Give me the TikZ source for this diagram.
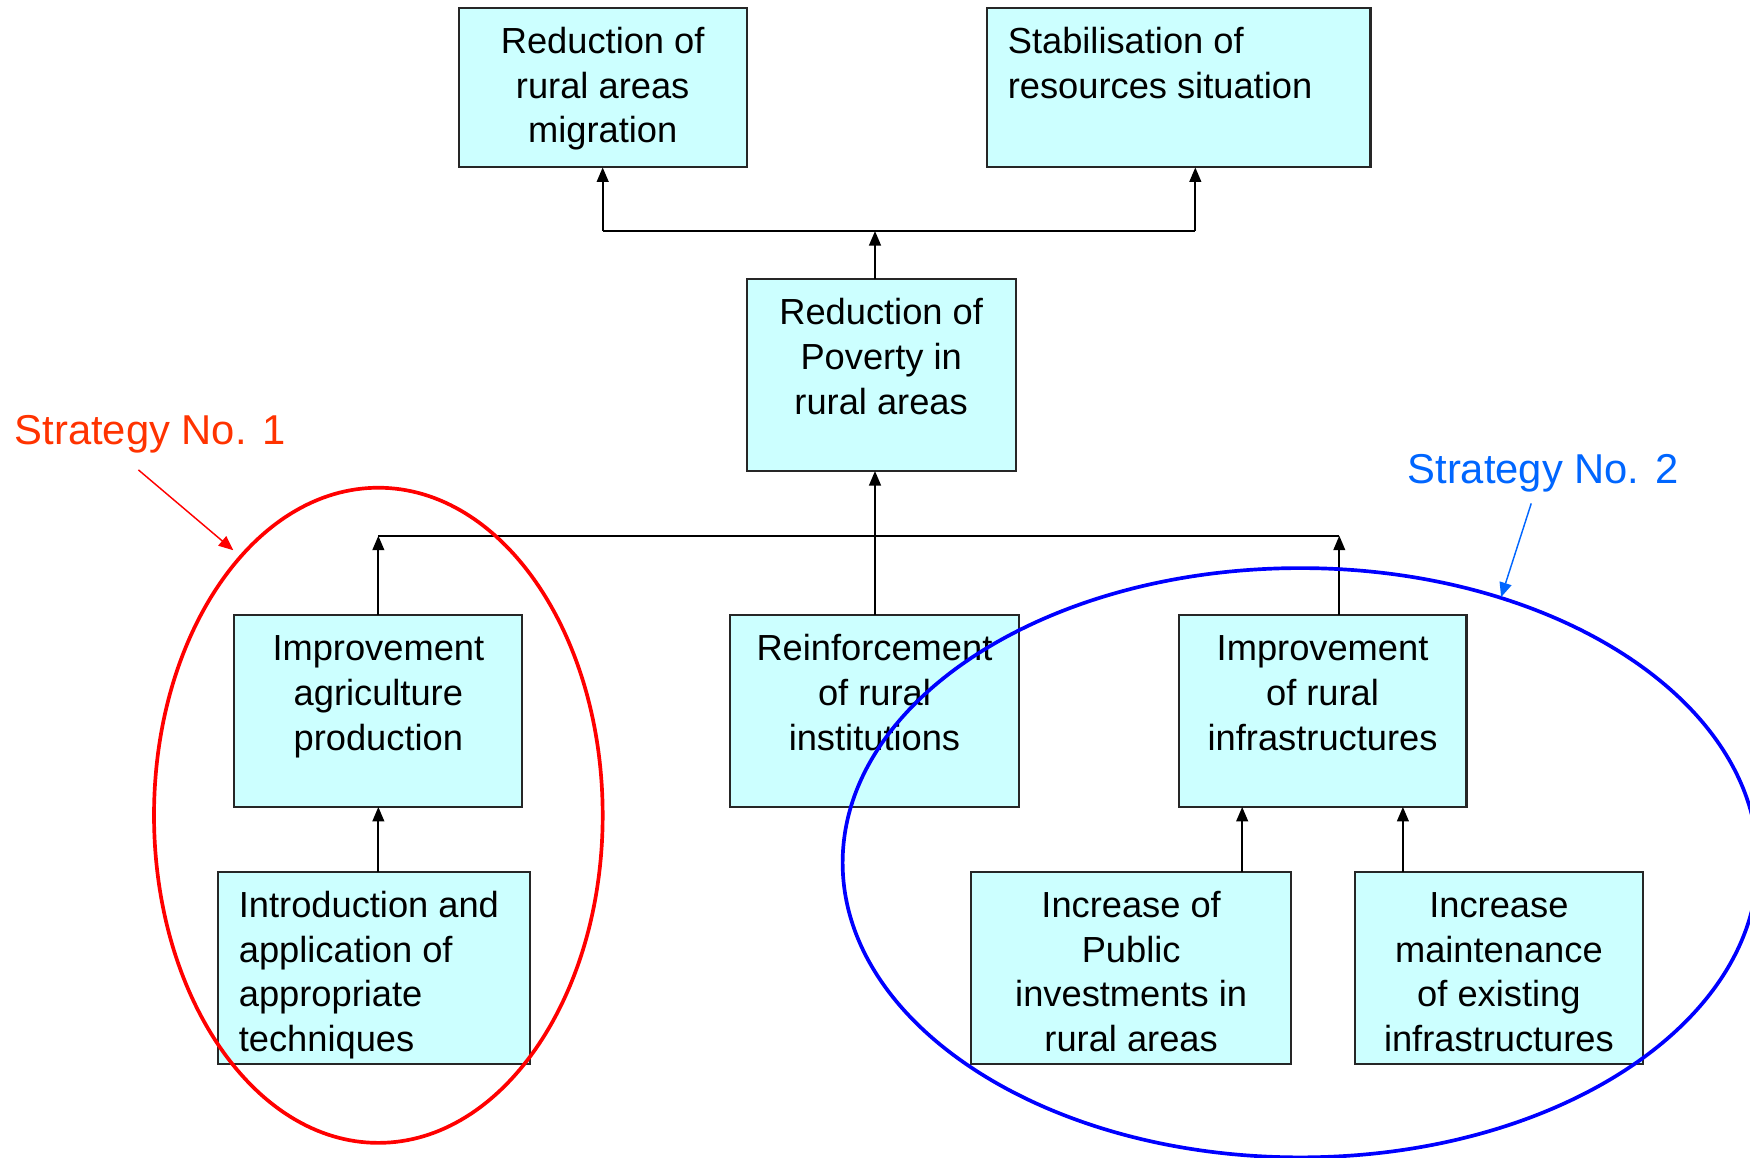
\documentclass[tikz,border=0pt]{standalone}
\usepackage{fontspec}
\setmainfont{Liberation Sans}
\usetikzlibrary{arrows.meta,shapes.geometric,calc}
\definecolor{boxfill}{HTML}{CCFFFF}
\definecolor{sonecol}{RGB}{255,51,0}
\definecolor{stwocol}{RGB}{0,102,255}
\definecolor{ringred}{RGB}{255,0,0}
\definecolor{ringblue}{RGB}{0,0,255}
\begin{document}
\begin{tikzpicture}[x=1pt,y=-1pt,
  boxnode/.style={draw=black!85, fill=boxfill, line width=1.9pt, inner sep=0pt, outer sep=0pt},
  txt/.style={inner sep=0pt, outer sep=0pt, font=\fontsize{32.5}{40}\selectfont},
  ln/.style={line width=1.8pt, draw=black},
  arr/.style={ln, -{Triangle[length=13pt,width=10.5pt]}},
  stratfont/.style={inner sep=0pt, font=\fontsize{37.4}{44}\selectfont},
  ring/.style={ellipse, line width=3.3pt, inner sep=0pt, outer sep=0pt}
]
\useasboundingbox (0,0) rectangle (1568,1037);
\fill[white] (0,0) rectangle (1568,1037);

% boxes
\node[boxnode, minimum width=258pt, minimum height=143pt] (A) at (540,78.5) {};
\node[boxnode, minimum width=344pt, minimum height=143pt] (B) at (1056,78.5) {};
\node[boxnode, minimum width=241pt, minimum height=172pt] (C) at (789.5,336) {};
\node[boxnode, minimum width=258pt, minimum height=172pt] (D) at (339,637) {};
\node[boxnode, minimum width=259pt, minimum height=172pt] (E) at (783.5,637) {};
\node[boxnode, minimum width=258pt, minimum height=172pt] (F) at (1185,637) {};
\node[boxnode, minimum width=280pt, minimum height=172pt] (G) at (335,867) {};
\node[boxnode, minimum width=287pt, minimum height=172pt] (H) at (1013.5,867) {};
\node[boxnode, minimum width=258pt, minimum height=172pt] (I) at (1343,867) {};

% texts
\node[txt, anchor=north, align=center] (At) at ($(A.north)+(0,11)$) {\rule{0pt}{30pt}Reduction of\\rural areas\\migration};
\node[txt, anchor=north west, align=left] (Bt) at ($(B.north west)+(19,11)$) {\rule{0pt}{30pt}Stabilisation of\\resources situation};
\node[txt, anchor=north, align=center] (Ct) at ($(C.north)+(0,11)$) {\rule{0pt}{30pt}Reduction of\\Poverty in\\rural areas};
\node[txt, anchor=north, align=center] (Dt) at ($(D.north)+(0,11)$) {\rule{0pt}{30pt}Improvement\\agriculture\\production};
\node[txt, anchor=north, align=center] (Et) at ($(E.north)+(0,11)$) {\rule{0pt}{30pt}Reinforcement\\of rural\\institutions};
\node[txt, anchor=north, align=center] (Ft) at ($(F.north)+(0,11)$) {\rule{0pt}{30pt}Improvement\\of rural\\infrastructures};
\node[txt, anchor=north west, align=left] (Gt) at ($(G.north west)+(19,11)$) {\rule{0pt}{30pt}Introduction and\\application of\\appropriate\\techniques};
\node[txt, anchor=north, align=center] (Ht) at ($(H.north)+(0,11)$) {\rule{0pt}{30pt}Increase of\\Public\\investments in\\rural areas};
\node[txt, anchor=north, align=center] (It) at ($(I.north)+(0,11)$) {\rule{0pt}{30pt}Increase\\maintenance\\of existing\\infrastructures};

% upper connectors
\coordinate (j1) at (540,207);
\coordinate (j2) at (1071,207);
\coordinate (jc) at (784,207);
\draw[ln] (j1) -- (j2);
\draw[arr] (j1) -- (A.south);
\draw[arr] (j2) -- (j2 |- B.south);
\draw[arr] (jc |- C.north) -- (jc);

% middle connectors
\coordinate (k1) at (339,480);
\coordinate (k2) at (1200,480);
\draw[ln] (k1) -- (k2);
\draw[arr] (D.north) -- (k1);
\draw[arr] (k2 |- F.north) -- (k2);
\coordinate (kc) at (784,480);
\draw[arr] (kc |- E.north) -- (kc |- C.south);

% lower connectors
\draw[arr] (D.south |- G.north) -- (D.south);
\coordinate (h1) at (1113,780);
\coordinate (i1) at (1257,780);
\draw[arr] (h1 |- H.north) -- (h1 |- F.south);
\draw[arr] (i1 |- I.north) -- (i1 |- F.south);

% strategy rings
\node[ring, draw=ringred, minimum width=402pt, minimum height=587pt] (S1) at (339,730.5) {};
\node[ring, draw=ringblue, minimum width=820pt, minimum height=528pt] (S2) at (1165,773) {};

% strategy labels
\node[stratfont, text=sonecol, anchor=base west] (T1) at (13,398) {Strategy No. 1};
\node[stratfont, text=stwocol, anchor=base west] (T2) at (1261,433) {Strategy No. 2};
\coordinate (r0) at (124,421);
\coordinate (r1) at (209,493);
\draw[line width=1.3pt, draw=ringred, -{Triangle[length=13pt,width=11pt]}, color=ringred] (r0) -- (r1);
\coordinate (b0) at (1372,451);
\coordinate (b1) at (1345,535);
\draw[line width=1.3pt, draw=stwocol, -{Triangle[length=13pt,width=11pt]}, color=stwocol] (b0) -- (b1);
\end{tikzpicture}
\end{document}
